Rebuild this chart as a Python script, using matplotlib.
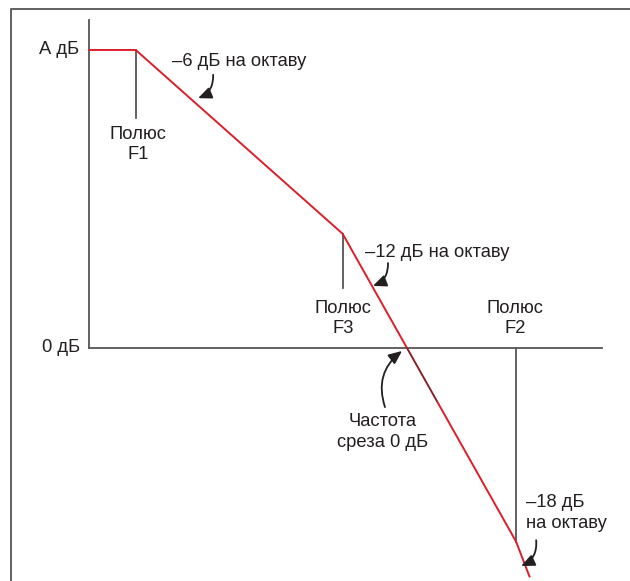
import numpy as np
import matplotlib
matplotlib.use('Agg')
import matplotlib.pyplot as plt

plt.rcParams['font.family'] = ['Liberation Sans', 'DejaVu Sans']

# asymptotic response: octaves from origin vs gain in dB
octaves = [0.0, 1.4, 7.6, 12.8, 13.2]
gain_db = [60, 60, 23, -39, -46]

pole_names = ['F1', 'F3', 'F2']
pole_oct = [1.4, 7.6, 12.8]
pole_top = [60, 23, 0]
pole_bottom = [46.3, 12.1, -39]

slope_labels = ['–6 дБ на октаву', '–12 дБ на октаву', '–18 дБ\nна октаву']
cutoff_label = 'Частота\nсреза 0 дБ'

red = '#dc1e2a'
gray = '#555555'
ink = '#231f20'
fs = 13.2

fig = plt.figure(figsize=(6.30, 5.81), dpi=100)
ax = fig.add_axes([0, 0, 1, 1])
ax.set_xlim(-2.667, 16.212)
ax.set_ylim(-46.91, 70.06)
ax.axis('off')

# outer frame (top and left only)
ax.plot([0.0175, 0.0175, 1.0], [0.0, 0.9845, 0.9845], transform=ax.transAxes,
        color=gray, lw=1.3, clip_on=False)

# axes of the diagram
ax.plot([0, 0], [0, 66], color=gray, lw=1.3)
ax.plot([0, 15.37], [0, 0], color=gray, lw=1.3)
ax.text(-0.3, 60, 'А дБ', ha='right', va='center', fontsize=fs, color=ink)
ax.text(-0.27, 0, '0 дБ', ha='right', va='center', fontsize=fs, color=ink)

# pole markers
for x, y0, y1 in zip(pole_oct, pole_top, pole_bottom):
    ax.plot([x, x], [y0, y1], color=gray, lw=1.3)

ax.text(1.47, 40.9, 'Полюс\n' + pole_names[0], ha='center', va='center',
        fontsize=fs, color=ink, linespacing=1.25)
ax.text(7.61, 6.0, 'Полюс\n' + pole_names[1], ha='center', va='center',
        fontsize=fs, color=ink, linespacing=1.25)
ax.text(12.77, 6.0, 'Полюс\n' + pole_names[2], ha='center', va='center',
        fontsize=fs, color=ink, linespacing=1.25)

# response curve
ax.plot(octaves, gain_db, color=red, lw=1.4, solid_joinstyle='miter')
cross = np.interp(0, gain_db[::-1], octaves[::-1])
seg = np.array([cross, cross + 0.9])
ax.plot(seg, np.interp(seg, octaves, gain_db), color='#333333', lw=0.8, alpha=0.8)

# slope and cutoff annotations
arrow = dict(arrowstyle='-|>,head_length=0.8,head_width=0.35', color=ink, lw=1.3,
             shrinkA=0, shrinkB=0)
ax.text(2.49, 57.6, slope_labels[0], ha='left', va='center', fontsize=fs, color=ink)
ax.annotate('', xy=(3.27, 50.3), xytext=(3.72, 55.0),
            arrowprops=dict(arrow, connectionstyle='arc3,rad=-0.35'))

ax.text(8.27, 19.3, slope_labels[1], ha='left', va='center', fontsize=fs, color=ink)
ax.annotate('', xy=(8.51, 12.5), xytext=(8.96, 17.1),
            arrowprops=dict(arrow, connectionstyle='arc3,rad=-0.35'))

ax.text(8.81, -16.9, cutoff_label, ha='center', va='center', fontsize=fs,
        color=ink, linespacing=1.25)
ax.annotate('', xy=(9.38, -0.6), xytext=(8.87, -11.9),
            arrowprops=dict(arrow, connectionstyle='arc3,rad=-0.35'))

ax.text(13.1, -33.2, slope_labels[2], ha='left', va='center', fontsize=fs,
        color=ink, linespacing=1.25)
ax.annotate('', xy=(12.95, -43.9), xytext=(13.4, -38.7),
            arrowprops=dict(arrow, connectionstyle='arc3,rad=-0.35'))

fig.savefig('out.png', dpi=100, facecolor='white')
